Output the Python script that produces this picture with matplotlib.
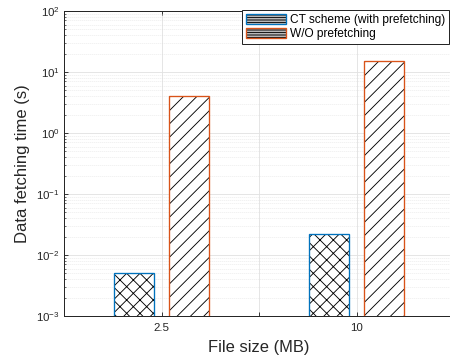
import matplotlib
matplotlib.use("Agg")
import matplotlib.pyplot as plt
import numpy as np
from matplotlib.patches import Patch

categories = ['2.5', '10']
ct_values = [0.005, 0.022]
wo_values = [4.0, 15.0]
series_names = ['CT scheme (with prefetching)', 'W/O prefetching']

blue = '#0072BD'
orange = '#D95319'

plt.rcParams['font.family'] = ['Liberation Sans', 'DejaVu Sans']
plt.rcParams['hatch.linewidth'] = 0.8

DPI = 80
fig = plt.figure(figsize=(450 / DPI, 360 / DPI), dpi=DPI)
ax = fig.add_axes([64 / 450, 44 / 360, 390 / 450, 305 / 360])

x = np.arange(1, len(categories) + 1)
off = 0.143
w = 0.205

# hatch layers
ax.bar(x - off, ct_values, w, facecolor='white', edgecolor='black', hatch='xx', linewidth=0, zorder=2)
ax.bar(x + off, wo_values, w, facecolor='white', edgecolor='black', hatch='//', linewidth=0, zorder=2)
# outlines
ax.bar(x - off, ct_values, w, fill=False, edgecolor=blue, linewidth=1.2, zorder=3)
ax.bar(x + off, wo_values, w, fill=False, edgecolor=orange, linewidth=1.2, zorder=3)

ax.set_yscale('log')
ax.set_ylim(1e-3, 1e2)
ax.set_xlim(0.5, 2.5)
ax.set_xticks([0.5, 1, 1.5, 2, 2.5])
ax.set_xticklabels(['', categories[0], '', categories[1], ''])

ax.set_axisbelow(True)
ax.grid(True, which='major', color='#e2e2e2', linewidth=0.8, linestyle='-')
ax.grid(True, which='minor', axis='y', color='#dadada', linewidth=0.6, linestyle=(0, (1, 2)))

for s in ax.spines.values():
    s.set_color('#262626')
    s.set_linewidth(0.9)

ax.tick_params(which='both', direction='in', top=True, right=True, colors='#262626',
               labelsize=10.3)
ax.tick_params(which='major', length=4, width=0.8)
ax.tick_params(which='minor', length=2, width=0.6)
ax.tick_params(axis='x', pad=6)

ax.set_xlabel('File size (MB)', fontsize=14.8, color='#262626', labelpad=7)
ax.set_ylabel('Data fetching time (s)', fontsize=15, color='#262626', labelpad=6)

h1 = (Patch(facecolor='white', edgecolor='black', hatch='--------', linewidth=0),
      Patch(fill=False, edgecolor=blue, linewidth=1.2))
h2 = (Patch(facecolor='white', edgecolor='black', hatch='--------', linewidth=0),
      Patch(fill=False, edgecolor=orange, linewidth=1.2))
leg = ax.legend([h1, h2], series_names, loc='upper left',
                bbox_to_anchor=(242 / 450, 1 - 10 / 360), bbox_transform=fig.transFigure,
                fontsize=10.7, frameon=True, fancybox=False, edgecolor='#262626',
                framealpha=1, borderpad=0.3, handlelength=3.4, handleheight=1.0,
                handletextpad=0.35, labelspacing=0.15, borderaxespad=0)
leg.get_frame().set_linewidth(0.9)

fig.savefig('out.png', dpi=DPI)
